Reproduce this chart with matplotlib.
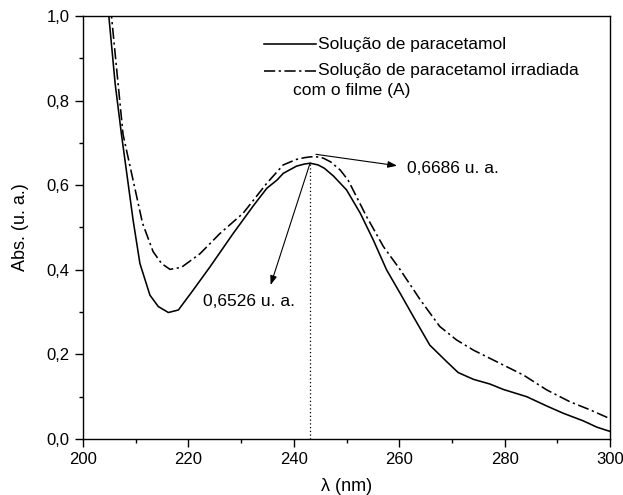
import matplotlib
matplotlib.use("Agg")
import matplotlib.pyplot as plt
from matplotlib.ticker import MultipleLocator, FuncFormatter

plt.rcParams['font.family'] = ['Liberation Sans', 'DejaVu Sans']

# Solução de paracetamol (solid)
wl_sol = [204.6, 204.9, 206.1, 207.3, 208.5, 209.5, 210.8, 212.7, 214.3, 216.2,
          218.1, 220.9, 224.1, 228.5, 232.3, 234.9, 236.8, 238.0, 240.5, 242.0,
          243.1, 244.6, 245.8, 247.5, 250.0, 252.6, 255.1, 257.6, 260.2, 262.7,
          265.8, 269.0, 271.2, 274.1, 277.2, 279.8, 284.2, 288.0, 291.1, 294.9,
          297.5, 300.0]
abs_sol = [1.02, 1.00, 0.84, 0.72, 0.61, 0.518, 0.415, 0.340, 0.313, 0.299,
           0.305, 0.352, 0.407, 0.486, 0.551, 0.593, 0.612, 0.628, 0.645, 0.650,
           0.652, 0.648, 0.640, 0.622, 0.589, 0.534, 0.470, 0.400, 0.344, 0.289,
           0.222, 0.183, 0.157, 0.141, 0.130, 0.117, 0.100, 0.078, 0.061, 0.043,
           0.028, 0.018]

# Solução de paracetamol irradiada com o filme (A) (dash-dot)
wl_irr = [205.1, 205.4, 207.6, 209.5, 211.3, 213.3, 214.9, 216.5, 218.7, 222.2,
          226.0, 230.4, 234.9, 238.0, 240.5, 242.0, 243.1, 244.4, 245.6, 247.0,
          248.8, 250.3, 253.8, 257.0, 260.2, 264.0, 267.7, 270.9, 274.1, 279.1,
          283.6, 288.0, 292.4, 296.2, 300.0]
abs_irr = [1.02, 1.00, 0.72, 0.612, 0.51, 0.443, 0.415, 0.401, 0.406, 0.438,
           0.486, 0.534, 0.605, 0.648, 0.661, 0.665, 0.667, 0.667, 0.664, 0.655,
           0.636, 0.612, 0.526, 0.455, 0.400, 0.329, 0.266, 0.234, 0.210, 0.179,
           0.151, 0.116, 0.088, 0.069, 0.048]

peak_wl = 243.1
peak_sol = 0.6526
peak_irr = 0.6686
label_sol = "Solução de paracetamol"
label_irr1 = "Solução de paracetamol irradiada"
label_irr2 = "com o filme (A)"
ann_sol = "0,6526 u. a."
ann_irr = "0,6686 u. a."

fig = plt.figure(figsize=(6.23, 4.95), dpi=100)
ax = fig.add_axes([83/623, 1-439/495, 527/623, 423/495])

dash_style = (0, (7, 2.2, 1.4, 2.2))
ax.plot(wl_sol, abs_sol, color='black', lw=1.15, solid_joinstyle='round')
ax.plot(wl_irr, abs_irr, color='black', lw=1.15, linestyle=dash_style)

ax.plot([peak_wl, peak_wl], [0, peak_sol], color='black', lw=0.9, linestyle=(0, (1, 2)))

ax.annotate('', xy=(235.6, 0.364), xytext=(peak_wl, peak_sol),
            arrowprops=dict(arrowstyle='-|>,head_length=0.5,head_width=0.18', color='black', lw=0.8,
                            mutation_scale=11, shrinkA=0, shrinkB=0))
ax.text(222.7, 0.325, ann_sol, fontsize=12.5, va='center', ha='left')

ax.annotate('', xy=(259.6, 0.646), xytext=(244.2, 0.673),
            arrowprops=dict(arrowstyle='-|>,head_length=0.5,head_width=0.18', color='black', lw=0.8,
                            mutation_scale=11, shrinkA=0, shrinkB=0))
ax.text(261.5, 0.640, ann_irr, fontsize=12.5, va='center', ha='left')

# legend drawn manually
ax.plot([0.343, 0.442], [0.933, 0.933], transform=ax.transAxes, color='black', lw=1.15)
ax.plot([0.343, 0.442], [0.871, 0.871], transform=ax.transAxes, color='black', lw=1.15,
        linestyle=dash_style)
ax.text(0.446, 0.933, label_sol, transform=ax.transAxes, fontsize=12.5, va='center', ha='left')
ax.text(0.446, 0.871, label_irr1, transform=ax.transAxes, fontsize=12.5, va='center', ha='left')
ax.text(0.398, 0.823, label_irr2, transform=ax.transAxes, fontsize=12.5, va='center', ha='left')

ax.set_xlim(200, 300)
ax.set_ylim(0, 1.0)
ax.xaxis.set_major_locator(MultipleLocator(20))
ax.xaxis.set_minor_locator(MultipleLocator(10))
ax.yaxis.set_major_locator(MultipleLocator(0.2))
ax.yaxis.set_minor_locator(MultipleLocator(0.1))
ax.yaxis.set_major_formatter(FuncFormatter(lambda v, p: f"{v:.1f}".replace('.', ',')))
ax.tick_params(which='major', direction='out', length=5.5, width=1.0, labelsize=12, pad=4)
ax.tick_params(which='minor', direction='out', length=3, width=1.0)
ax.tick_params(top=False, right=False, which='both')
for s in ax.spines.values():
    s.set_linewidth(1.0)

ax.set_xlabel("λ (nm)", fontsize=13, labelpad=8)
ax.set_ylabel("Abs. (u. a.)", fontsize=13, labelpad=13)

fig.savefig("out.png", dpi=100)
